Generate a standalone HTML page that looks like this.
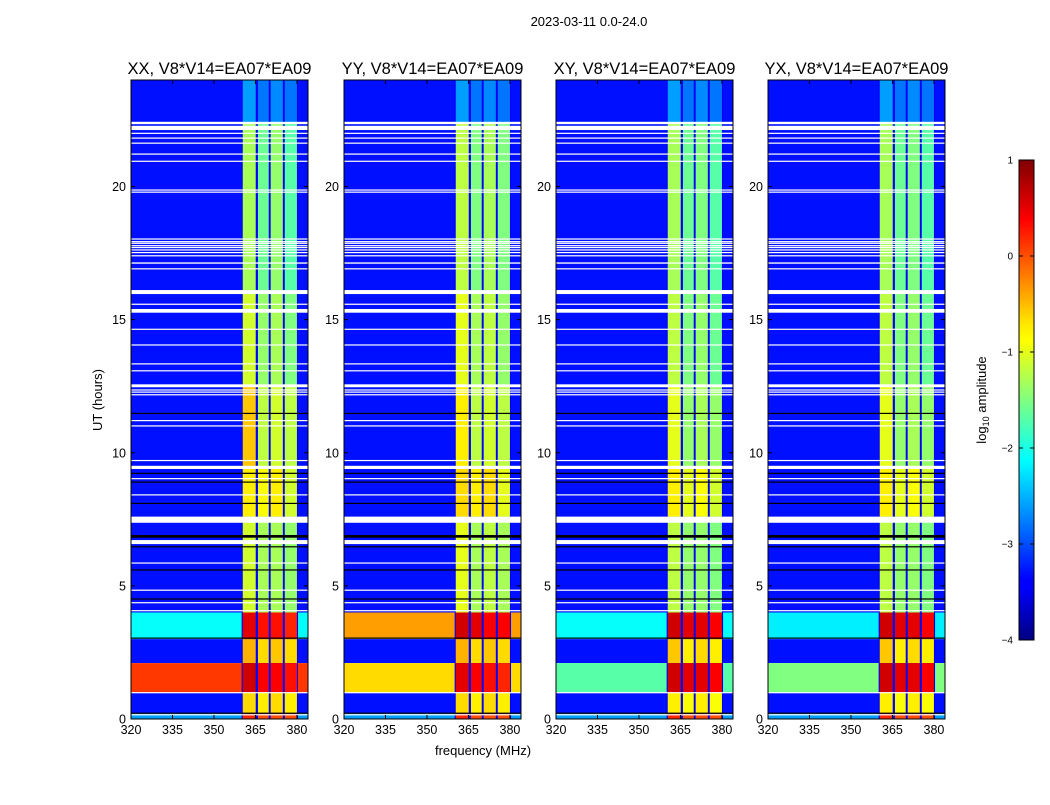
<!DOCTYPE html>
<html><head><meta charset="utf-8">
<style>
html,body{margin:0;padding:0;background:#fff;}
body{width:1050px;height:800px;position:relative;overflow:hidden;font-family:"Liberation Sans",sans-serif;}
svg text{font-family:"Liberation Sans",sans-serif;}
</style></head>
<body>
<svg id="chart" width="1050" height="800" xmlns="http://www.w3.org/2000/svg">
<defs>
<linearGradient id="jetgrad" x1="0" y1="1" x2="0" y2="0">
<stop offset="0" stop-color="#000080"/><stop offset="0.11" stop-color="#0000ff"/>
<stop offset="0.125" stop-color="#0000ff"/><stop offset="0.34" stop-color="#00dcff"/>
<stop offset="0.375" stop-color="#00ffff"/><stop offset="0.5" stop-color="#80ff80"/>
<stop offset="0.625" stop-color="#ffff00"/><stop offset="0.66" stop-color="#ffe600"/>
<stop offset="0.875" stop-color="#ff0000"/><stop offset="1" stop-color="#800000"/>
</linearGradient>
</defs>
<text x="589" y="26" font-size="13" text-anchor="middle">2023-03-11 0.0-24.0</text>
<text x="102" y="400" font-size="13" text-anchor="middle" transform="rotate(-90 102 400)">UT (hours)</text>
<text x="483" y="755" font-size="13" text-anchor="middle">frequency (MHz)</text>
<g id="panels"></g>
<g id="cbar">
<rect x="1019" y="160" width="15" height="480" fill="url(#jetgrad)" stroke="#000" stroke-width="1"/>
</g>
<text x="986" y="400" font-size="13" text-anchor="middle" transform="rotate(-90 986 400)">log<tspan font-size="9" dy="3">10</tspan><tspan dy="-3"> amplitude</tspan></text>
</svg>
<script>
// ---- data ----
const panelTitles = ["XX, V8*V14=EA07*EA09","YY, V8*V14=EA07*EA09","XY, V8*V14=EA07*EA09","YX, V8*V14=EA07*EA09"];
const xTicks = [320,335,350,365,380];
const yTicks = [0,5,10,15,20];
const cbarTicks = [1,0,-1,-2,-3,-4];
const cbarLabels = ["1","0","\u22121","\u22122","\u22123","\u22124"];
const bandLo = [360.4,365.9,370.5,375.6];
const bandHi = [365.1,369.8,374.9,380.0];
// time segments [start,end] hours
const segStart = [22.4,16.1,12.5,9.5,7.6,4.0,3.0,2.1,1.0,0.2,0.0];
const segEnd   = [24.0,22.4,16.1,12.5,9.5,7.6,4.0,3.0,2.1,1.0,0.2];
// background log amplitude per segment, per panel
const bgXX = [-3.3,-3.3,-3.3,-3.3,-3.3,-3.3,-2.1,-3.3,0.1,-3.3,-2.6];
const bgYY = [-3.3,-3.3,-3.3,-3.3,-3.3,-3.3,-0.4,-3.3,-0.7,-3.3,-2.6];
const bgXY = [-3.3,-3.3,-3.3,-3.3,-3.3,-3.3,-2.1,-3.3,-1.7,-3.3,-2.6];
const bgYX = [-3.3,-3.3,-3.3,-3.3,-3.3,-3.3,-2.2,-3.3,-1.5,-3.3,-2.6];
// band values per segment (band 1..4), per panel
const b1XX = [-2.6,-1.3,-1.1,-0.6,-0.8,-1.1,0.5,-0.5,0.6,-0.7,0.2];
const b2XX = [-2.8,-1.6,-1.4,-1.2,-0.9,-1.3,0.3,-0.7,0.4,-0.8,0.0];
const b3XX = [-2.7,-1.4,-1.3,-1.1,-0.8,-1.3,0.3,-0.6,0.4,-0.7,0.0];
const b4XX = [-2.8,-1.7,-1.5,-1.2,-1.1,-1.4,0.2,-0.7,0.3,-0.8,0.0];
const b1YY = [-2.6,-1.2,-1.0,-0.8,-0.7,-1.0,0.6,-0.5,0.5,-0.7,0.2];
const b2YY = [-2.8,-1.5,-1.3,-1.2,-0.8,-1.3,0.5,-0.7,0.4,-0.8,0.0];
const b3YY = [-2.7,-1.3,-1.2,-1.1,-0.7,-1.2,0.4,-0.6,0.3,-0.7,0.0];
const b4YY = [-2.8,-1.5,-1.4,-1.2,-1.0,-1.3,0.4,-0.7,0.2,-0.8,0.0];
const b1XY = [-2.6,-1.3,-1.2,-1.0,-0.8,-1.2,0.6,-0.6,0.6,-0.8,0.2];
const b2XY = [-2.8,-1.6,-1.5,-1.4,-1.0,-1.4,0.5,-0.8,0.5,-0.9,0.0];
const b3XY = [-2.7,-1.5,-1.4,-1.3,-0.9,-1.4,0.5,-0.7,0.5,-0.8,0.0];
const b4XY = [-2.8,-1.7,-1.6,-1.4,-1.1,-1.5,0.4,-0.8,0.4,-0.9,0.0];
const b1YX = [-2.6,-1.3,-1.2,-1.0,-0.8,-1.2,0.6,-0.6,0.6,-0.8,0.2];
const b2YX = [-2.8,-1.6,-1.5,-1.4,-1.0,-1.4,0.5,-0.8,0.5,-0.9,0.0];
const b3YX = [-2.7,-1.5,-1.4,-1.3,-0.9,-1.4,0.5,-0.7,0.5,-0.8,0.0];
const b4YX = [-2.8,-1.7,-1.6,-1.4,-1.1,-1.5,0.4,-0.8,0.4,-0.9,0.0];
// flagged gaps (hours) white and black
const whiteStart = [22.34,22.12,21.98,21.80,21.61,21.20,20.93,19.85,19.77,18.01,17.91,17.85,17.76,17.69,17.60,17.50,17.38,17.10,16.89,15.96,15.56,15.26,14.62,14.03,13.32,13.06,12.46,12.34,12.26,12.16,11.19,10.99,9.69,9.39,9.01,8.40,7.37,6.57,5.84,4.82,4.35,4.05,0.97,0.14];
const whiteEnd   = [22.43,22.28,22.02,21.84,21.65,21.24,20.97,19.89,19.81,18.05,17.95,17.89,17.80,17.73,17.64,17.54,17.42,17.15,16.93,16.11,15.60,15.40,14.66,14.07,13.36,13.10,12.57,12.38,12.30,12.20,11.23,11.03,9.73,9.51,9.05,8.44,7.60,6.72,5.88,4.86,4.39,4.09,1.01,0.18];
const blackStart = [11.46,9.21,8.88,8.08,6.81,6.45,5.58,4.49,3.02,0.20];
const blackEnd   = [11.50,9.25,8.92,8.12,6.91,6.49,5.62,4.53,3.06,0.24];

const panelBg = [bgXX,bgYY,bgXY,bgYX];
const panelBands = [[b1XX,b2XX,b3XX,b4XX],[b1YY,b2YY,b3YY,b4YY],[b1XY,b2XY,b3XY,b4XY],[b1YX,b2YX,b3YX,b4YX]];

// ---- layout ----
const panelLeft = [131,344,556,768];
const PW = 177, PT = 80, PB = 719;
const F0 = 320, F1 = 384, T0 = 0, T1 = 24;
const NS = "http://www.w3.org/2000/svg";
function jet(v){ // v log amplitude, -4..1
  let x = (v+4)/5; x = Math.max(0,Math.min(1,x));
  const c = a => Math.round(255*Math.max(0,Math.min(1,a)));
  return `rgb(${c(1.5-Math.abs(4*x-3))},${c(1.5-Math.abs(4*x-2))},${c(1.5-Math.abs(4*x-1))})`;
}
function mk(tag, attrs, parent){
  const e = document.createElementNS(NS, tag);
  for (const k in attrs) e.setAttribute(k, attrs[k]);
  parent.appendChild(e); return e;
}
const root = document.getElementById('panels');
panelLeft.forEach((L, p) => {
  const xs = f => L + (f-F0)*PW/(F1-F0);
  const ys = t => PB - (t-T0)*(PB-PT)/(T1-T0);
  const g = mk('g', {}, root);
  
  
  segStart.forEach((s, i) => {
    const r = mk('rect', {x: xs(F0), y: ys(segEnd[i]), width: xs(F1)-xs(F0), height: ys(s)-ys(segEnd[i]), fill: jet(panelBg[p][i])}, g);
    
    
    const sep = mk('rect', {x: xs(bandLo[0]-0.4), y: ys(segEnd[i]), width: xs(bandHi[3]+0.4)-xs(bandLo[0]-0.4), height: ys(s)-ys(segEnd[i]), fill: jet(-3.4)}, g);
    
    
    for (let b = 0; b < 4; b++) {
      const c = mk('rect', {x: xs(bandLo[b]), y: ys(segEnd[i]), width: xs(bandHi[b])-xs(bandLo[b]), height: ys(s)-ys(segEnd[i]), fill: jet(panelBands[p][b][i])}, g);
      
      
    }
  });
  whiteStart.forEach((s, i) => {
    const h = Math.max(1.2, ys(s)-ys(whiteEnd[i]));
    const r = mk('rect', {x: xs(F0), y: ys(whiteEnd[i]), width: PW, height: h, fill: '#fff'}, g);
    
    
  });
  blackStart.forEach((s, i) => {
    const h = Math.max(1.2, ys(s)-ys(blackEnd[i]));
    const r = mk('rect', {x: xs(F0), y: ys(blackEnd[i]), width: PW, height: h, fill: '#000'}, g);
    
    
  });
  const fr = mk('rect', {x: L, y: PT, width: PW, height: PB-PT, fill: 'none', stroke: '#000', 'stroke-width': 1}, g);
  
  
  const tt = mk('text', {x: L+PW/2, y: 74, 'font-size': 16.5, 'text-anchor': 'middle'}, g);
  tt.textContent = panelTitles[p];
  
  
  xTicks.forEach(f => {
    mk('line', {x1: xs(f), x2: xs(f), y1: PB, y2: PB-4, stroke: '#000'}, g);
    mk('line', {x1: xs(f), x2: xs(f), y1: PT, y2: PT+4, stroke: '#000'}, g);
    const t = mk('text', {x: xs(f), y: PB+15, 'font-size': 12.5, 'text-anchor': 'middle'}, g);
    t.textContent = f;
    
    
  });
  yTicks.forEach(v => {
    mk('line', {x1: L, x2: L+4, y1: ys(v), y2: ys(v), stroke: '#000'}, g);
    mk('line', {x1: L+PW, x2: L+PW-4, y1: ys(v), y2: ys(v), stroke: '#000'}, g);
    const t = mk('text', {x: L-5, y: ys(v)+4.5, 'font-size': 12.5, 'text-anchor': 'end'}, g);
    t.textContent = v;
    
    
  });
});
const cb = document.getElementById('cbar');
cbarTicks.forEach((v, i) => {
  const y = 640 - (v+4)*480/5;
  mk('line', {x1: 1019, x2: 1023, y1: y, y2: y, stroke: '#000'}, cb);
  mk('line', {x1: 1034, x2: 1030, y1: y, y2: y, stroke: '#000'}, cb);
  const t = mk('text', {x: 1013, y: y+3.5, 'font-size': 10, 'text-anchor': 'end'}, cb);
  t.textContent = cbarLabels[i];
  
  
});
</script>
</body></html>
